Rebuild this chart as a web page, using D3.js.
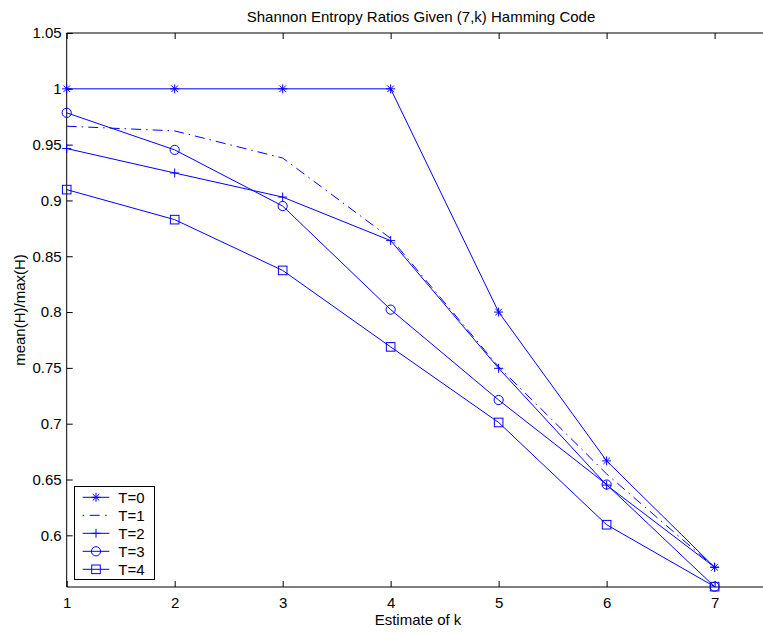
<!DOCTYPE html>
<html><head><meta charset="utf-8">
<script src="https://cdn.jsdelivr.net/npm/d3@7"></script>
<style>body{margin:0;background:#fff}svg{display:block}text{font-family:Arial,"Liberation Sans",sans-serif;fill:#000}</style>
</head><body><svg id="c" width="763" height="633"></svg>
<script>
const kValues = [1, 2, 3, 4, 5, 6, 7];
const seriesNames = ["T=0", "T=1", "T=2", "T=3", "T=4"];
const T0 = [1.0, 1.0, 1.0, 1.0, 0.8, 0.6667, 0.5714];
const T1 = [0.9665, 0.9623, 0.938, 0.866, 0.751, 0.655, 0.5714];
const T2 = [0.9465, 0.9246, 0.903, 0.864, 0.7496, 0.645, 0.5714];
const T3 = [0.9785, 0.9453, 0.895, 0.8022, 0.7212, 0.6455, 0.554];
const T4 = [0.9097, 0.8828, 0.8373, 0.7688, 0.7011, 0.6095, 0.554];
const xTicks = [1, 2, 3, 4, 5, 6, 7];
const yTicks = [0.6, 0.65, 0.7, 0.75, 0.8, 0.85, 0.9, 0.95, 1, 1.05];
const titleText = "Shannon Entropy Ratios Given (7,k) Hamming Code";
const xLabelText = "Estimate of k";
const yLabelText = "mean(H)/max(H)";

const series = [
  {name: seriesNames[0], values: T0, marker: "star", dash: null},
  {name: seriesNames[1], values: T1, marker: null, dash: "10,5,1.5,5"},
  {name: seriesNames[2], values: T2, marker: "plus", dash: null},
  {name: seriesNames[3], values: T3, marker: "circle", dash: null},
  {name: seriesNames[4], values: T4, marker: "square", dash: null}
];

const svg = d3.select("#c");
const L = 66.7, R = 774, T = 33, B = 587;
const FS = 15;
const blue = "#0000ff";
const x = d3.scaleLinear().domain([1, 7.55]).range([L, R]);
const y = d3.scaleLinear().domain([0.5537, 1.05]).range([B, T]);

// frame
svg.append("line").attr("x1", L).attr("x2", 763).attr("y1", T).attr("y2", T).attr("stroke", "#000");
svg.append("line").attr("x1", L).attr("x2", 763).attr("y1", B).attr("y2", B).attr("stroke", "#000");
svg.append("line").attr("x1", L).attr("x2", L).attr("y1", T).attr("y2", B).attr("stroke", "#000");

const fmt = d => String(+d.toFixed(2));
const gx = svg.append("g").attr("transform", `translate(0,${B})`)
  .call(d3.axisBottom(x).tickValues(xTicks).tickSize(-6).tickPadding(10).tickFormat(fmt));
const gxt = svg.append("g").attr("transform", `translate(0,${T})`)
  .call(d3.axisTop(x).tickValues(xTicks).tickSize(-6).tickFormat(""));
const gy = svg.append("g").attr("transform", `translate(${L},0)`)
  .call(d3.axisLeft(y).tickValues(yTicks).tickSize(-6).tickPadding(5).tickFormat(fmt));
[gx, gxt, gy].forEach(g => {
  g.select(".domain").remove();
  g.selectAll("line").attr("stroke", "#000");
  g.selectAll("text").style("font-size", FS + "px").attr("font-family", "Arial, 'Liberation Sans', sans-serif").attr("fill", "#000");
});

// titles
svg.append("text").attr("x", 421).attr("y", 22).attr("text-anchor", "middle").style("font-size", FS + "px").text(titleText);
svg.append("text").attr("x", 418).attr("y", 625).attr("text-anchor", "middle").style("font-size", FS + "px").text(xLabelText);
svg.append("text").attr("transform", `translate(25,${(T + B) / 2}) rotate(-90)`).attr("text-anchor", "middle").style("font-size", FS + "px").text(yLabelText);

function drawMarker(g, type, cx, cy) {
  const s = 4.5;
  if (type === "star") {
    const d = 3.3;
    g.append("path").attr("d", `M${cx - s},${cy}H${cx + s}M${cx},${cy - s}V${cy + s}M${cx - d},${cy - d}L${cx + d},${cy + d}M${cx - d},${cy + d}L${cx + d},${cy - d}`)
      .attr("stroke", blue).attr("fill", "none");
  } else if (type === "plus") {
    g.append("path").attr("d", `M${cx - s},${cy}H${cx + s}M${cx},${cy - s}V${cy + s}`).attr("stroke", blue).attr("fill", "none");
  } else if (type === "circle") {
    g.append("circle").attr("cx", cx).attr("cy", cy).attr("r", 4.6).attr("stroke", blue).attr("fill", "none");
  } else if (type === "square") {
    g.append("rect").attr("x", cx - 4.3).attr("y", cy - 4.3).attr("width", 8.6).attr("height", 8.6).attr("stroke", blue).attr("fill", "none");
  }
}

const line = d3.line().x((d, i) => x(kValues[i])).y(d => y(d));
series.forEach(s => {
  const g = svg.append("g");
  g.append("path").attr("d", line(s.values)).attr("fill", "none").attr("stroke", blue).attr("stroke-width", 1)
    .attr("stroke-dasharray", s.dash);
  if (s.marker) s.values.forEach((v, i) => drawMarker(g, s.marker, x(kValues[i]), y(v)));
});

// legend
const lg = svg.append("g");
lg.append("rect").attr("x", 74.5).attr("y", 486.5).attr("width", 80).attr("height", 93).attr("fill", "#fff").attr("stroke", "#000");
series.forEach((s, i) => {
  const cy = 497.3 + i * 18;
  lg.append("line").attr("x1", 82.7).attr("x2", 109.3).attr("y1", cy).attr("y2", cy).attr("stroke", blue)
    .attr("stroke-dasharray", s.dash ? "1.5,5.5,10,5.5" : null);
  if (s.marker) drawMarker(lg, s.marker, 96, cy);
  lg.append("text").attr("x", 118.3).attr("y", cy + 5.3).style("font-size", FS + "px").text(s.name);
});
</script></body></html>
